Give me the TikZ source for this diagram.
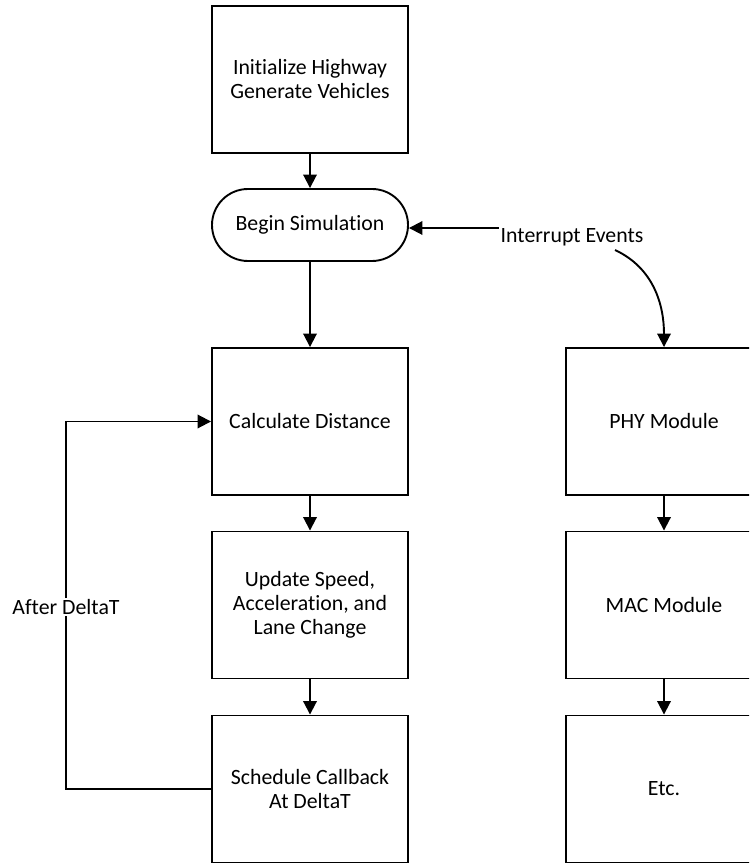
\documentclass[tikz,border=0pt]{standalone}
\usepackage{fontspec}
\setmainfont[Ligatures=NoCommon]{Carlito}
\usetikzlibrary{arrows.meta}
\begin{document}
\begin{tikzpicture}[x=1pt,y=-1pt,
  every node/.style={font=\fontsize{21.8}{24}\selectfont, align=center},
  block/.style={draw, line width=1.9pt, minimum width=196pt, minimum height=147pt, inner sep=0pt},
  startstop/.style={draw, line width=1.9pt, minimum width=196pt, minimum height=72pt, rounded corners=36pt, inner sep=0pt},
  arr/.style={line width=1.9pt, -{Triangle[length=13.5pt,width=13.5pt]}},
  plain/.style={line width=1.9pt}
]
\useasboundingbox (0,0) rectangle (749,866);
\clip (0,0) rectangle (749,866);

% main simulation flow
\node[block] (init) at (310,79.5) {Initialize Highway\\Generate Vehicles};
\node[startstop] (sim) at (310,225) {Begin Simulation};
\node[block] (calc) at (310,421.5) {Calculate Distance};
\node[block] (upd) at (310,605) {Update Speed,\\Acceleration, and\\Lane Change};
\node[block] (sched) at (310,789) {Schedule Callback\\At DeltaT};

% network stack
\node[block] (phy) at (664,421.5) {PHY Module};
\node[block] (mac) at (664,605) {MAC Module};
\node[block] (etc) at (664,789) {Etc.};

% free labels
\node[inner sep=2pt] (intr) at (572,237) {Interrupt Events};
\node[fill=white, inner sep=1pt] (after) at (66,607) {After DeltaT};

\coordinate (loopL) at (66,789);
\coordinate (loopT) at (66,421.5);
\coordinate (curveA) at (615,250);

\draw[arr] (init) -- (sim);
\draw[arr] (sim) -- (calc);
\draw[arr] (calc) -- (upd);
\draw[arr] (upd) -- (sched);
\draw[arr] (phy) -- (mac);
\draw[arr] (mac) -- (etc);

\draw[arr] ([yshift=9pt]intr.west) -- ([yshift=9pt]intr.west -| sim.east);
\draw[arr] (curveA) to[out=-25,in=90] (phy.north);

\draw[plain] (sched.west) -- (loopL) -- (after);
\draw[arr] (after) -- (loopT) -- (calc.west);
\end{tikzpicture}
\end{document}
